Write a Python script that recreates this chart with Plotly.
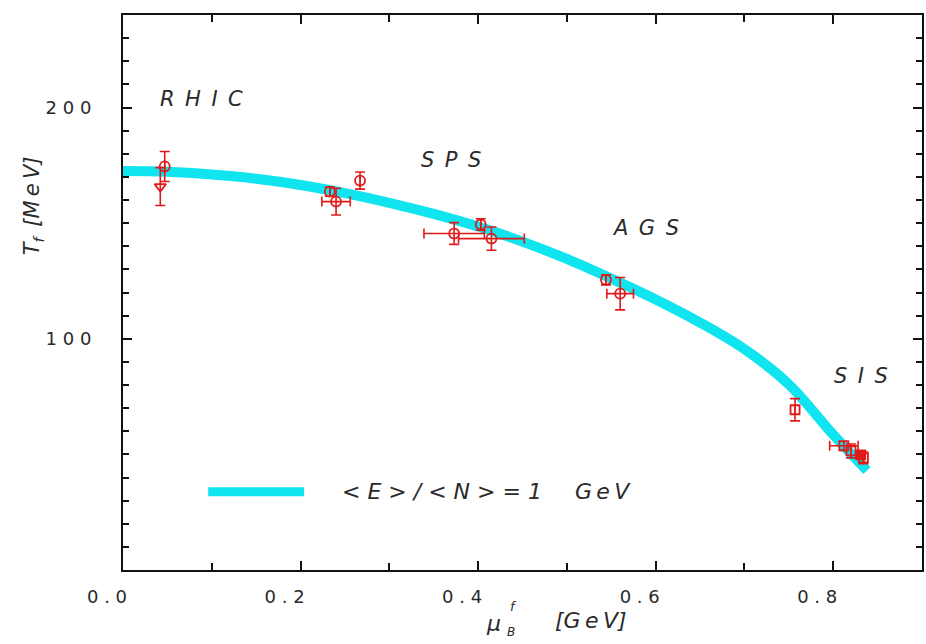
import plotly.graph_objects as go

# ---------------- data ----------------
curve_mu = [0.0, 0.05, 0.1, 0.15, 0.2, 0.25, 0.3, 0.35, 0.4, 0.45, 0.5, 0.55, 0.6, 0.65, 0.7, 0.75, 0.8, 0.838]
curve_T = [172.5, 172.2, 171.0, 169.2, 166.5, 163.0, 158.8, 154.0, 148.5, 142.0, 134.5, 126.0, 117.0, 107.0, 95.5, 80.3, 58.5, 43.0]

circ_mu = [0.047, 0.233, 0.240, 0.267, 0.373, 0.403, 0.415, 0.544, 0.560]
circ_T = [174.5, 163.6, 159.3, 168.4, 145.5, 149.4, 143.3, 125.5, 119.5]
circ_err_mu = [0.0, 0.0, 0.016, 0.0, 0.034, 0.0, 0.037, 0.0, 0.015]
circ_err_T = [6.5, 2.0, 5.8, 3.7, 4.7, 2.5, 5.0, 2.2, 7.0]

tri_mu = [0.042]
tri_T = [165.8]
tri_err_T = [8.2]

sq_mu = [0.757, 0.812, 0.820, 0.834]
sq_T = [69.3, 53.7, 51.5, 48.5]
sq_err_mu = [0.0, 0.016, 0.0, 0.0]
sq_err_T = [4.8, 2.0, 3.0, 2.5]

sqf_mu = [0.831]
sqf_T = [49.8]

x_tick_vals = [0.0, 0.2, 0.4, 0.6, 0.8]
x_tick_labels = ["0.0", "0.2", "0.4", "0.6", "0.8"]
y_tick_vals = [100, 200]
y_tick_labels = ["100", "200"]

region_names = ["RHIC", "SPS", "AGS", "SIS"]
region_mu = [0.088, 0.369, 0.588, 0.831]
region_T = [203.5, 177.5, 148.0, 84.0]

legend_label = "<E>/<N>=1"
legend_unit = "GeV"

# ---------------- style ----------------
RED = "#e01a1a"
CYAN = "#10E4EE"
TXT = "#2a2a2a"
FONT = "DejaVu Sans"

L, R, T, B = 123, 2, 15, 74
PW, PH = 926 - L - R, 644 - T - B


def spaced(s, sep=" "):
    return sep.join(list(s))


def px(xp):
    return (xp - L) / PW


def py(yp):
    return (644 - B - yp) / PH


fig = go.Figure()

fig.add_trace(go.Scatter(
    x=curve_mu, y=curve_T, mode="lines",
    line=dict(color=CYAN, width=10, shape="spline", smoothing=1.0),
    hoverinfo="skip", showlegend=False))

err_style = dict(color=RED, thickness=1.6, width=5)

fig.add_trace(go.Scatter(
    x=circ_mu, y=circ_T, mode="markers",
    marker=dict(symbol="circle-open", size=10, color=RED, line=dict(width=1.8, color=RED)),
    error_x=dict(type="data", array=circ_err_mu, **err_style),
    error_y=dict(type="data", array=circ_err_T, **err_style),
    showlegend=False))

fig.add_trace(go.Scatter(
    x=tri_mu, y=tri_T, mode="markers",
    marker=dict(symbol="triangle-down-open", size=10, color=RED, line=dict(width=1.8, color=RED)),
    error_y=dict(type="data", array=tri_err_T, **err_style),
    showlegend=False))

fig.add_trace(go.Scatter(
    x=sq_mu, y=sq_T, mode="markers",
    marker=dict(symbol="square-open", size=9, color=RED, line=dict(width=1.8, color=RED)),
    error_x=dict(type="data", array=sq_err_mu, **err_style),
    error_y=dict(type="data", array=sq_err_T, **err_style),
    showlegend=False))

fig.add_trace(go.Scatter(
    x=sqf_mu, y=sqf_T, mode="markers",
    marker=dict(symbol="square", size=9, color=RED, line=dict(width=1.8, color=RED)),
    showlegend=False))

annotations = []
for name, mx, ty in zip(region_names, region_mu, region_T):
    annotations.append(dict(
        x=mx, y=ty, xref="x", yref="y", text=spaced(name, "\u2002"), showarrow=False,
        font=dict(family=FONT, size=21, color=TXT, style="italic")))

# legend sample line + text
fig.add_shape(type="line", xref="x", yref="y", x0=0.096, x1=0.204, y0=33.8, y1=33.8,
              line=dict(color=CYAN, width=9))
annotations.append(dict(
    x=0.244, y=33.8, xref="x", yref="y", xanchor="left",
    text=spaced(legend_label, " ") + "\u2003\u2002" + spaced(legend_unit, "\u2009"),
    showarrow=False, font=dict(family=FONT, size=22, color=TXT, style="italic")))

# axis titles
annotations.append(dict(
    x=px(33), y=py(206), xref="paper", yref="paper", xanchor="center", yanchor="middle",
    textangle=-90,
    text="T<sub>f</sub>\u2002[" + spaced("MeV", "\u2009") + "]", showarrow=False,
    font=dict(family=FONT, size=21, color=TXT, style="italic")))
annotations.append(dict(
    x=px(494), y=py(623), xref="paper", yref="paper", xanchor="center", yanchor="middle",
    text="\u03bc", showarrow=False,
    font=dict(family=FONT, size=22, color=TXT, style="italic")))
annotations.append(dict(
    x=px(514), y=py(606), xref="paper", yref="paper", xanchor="center", yanchor="middle",
    text="f", showarrow=False,
    font=dict(family=FONT, size=13, color=TXT, style="italic")))
annotations.append(dict(
    x=px(512), y=py(632), xref="paper", yref="paper", xanchor="center", yanchor="middle",
    text="B", showarrow=False,
    font=dict(family=FONT, size=12, color=TXT, style="italic")))
annotations.append(dict(
    x=px(592), y=py(620), xref="paper", yref="paper", xanchor="center", yanchor="middle",
    text="[" + spaced("GeV", "\u2009") + "]", showarrow=False,
    font=dict(family=FONT, size=22, color=TXT, style="italic")))

axis_common = dict(
    showline=True, linecolor="#111", linewidth=2, mirror="allticks",
    ticks="inside", tickcolor="#111", tickwidth=2, ticklen=9,
    showgrid=False, zeroline=False,
    tickfont=dict(family=FONT, size=18, color=TXT),
)

fig.update_layout(
    width=926, height=644,
    margin=dict(l=L, r=R, t=T, b=B),
    paper_bgcolor="white", plot_bgcolor="white",
    xaxis=dict(range=[0, 0.9], tickvals=x_tick_vals,
               ticktext=[spaced(t, " ") for t in x_tick_labels],
               ticklabelshift=-16,
               minor=dict(dtick=0.1, tick0=0, ticks="inside", ticklen=7, tickcolor="#111", tickwidth=2),
               ticklabelstandoff=9, **axis_common),
    yaxis=dict(range=[0, 240], tickvals=y_tick_vals,
               ticktext=[spaced(t, " ") for t in y_tick_labels],
               minor=dict(dtick=10, tick0=0, ticks="inside", ticklen=6, tickcolor="#111", tickwidth=1.5),
               ticklabelstandoff=26, **axis_common),
    annotations=annotations,
    showlegend=False,
)

fig.write_html(
    "out.html",
    config={"displayModeBar": False},
    post_script="document.body.style.margin='0';document.body.style.overflow='hidden';",
)
